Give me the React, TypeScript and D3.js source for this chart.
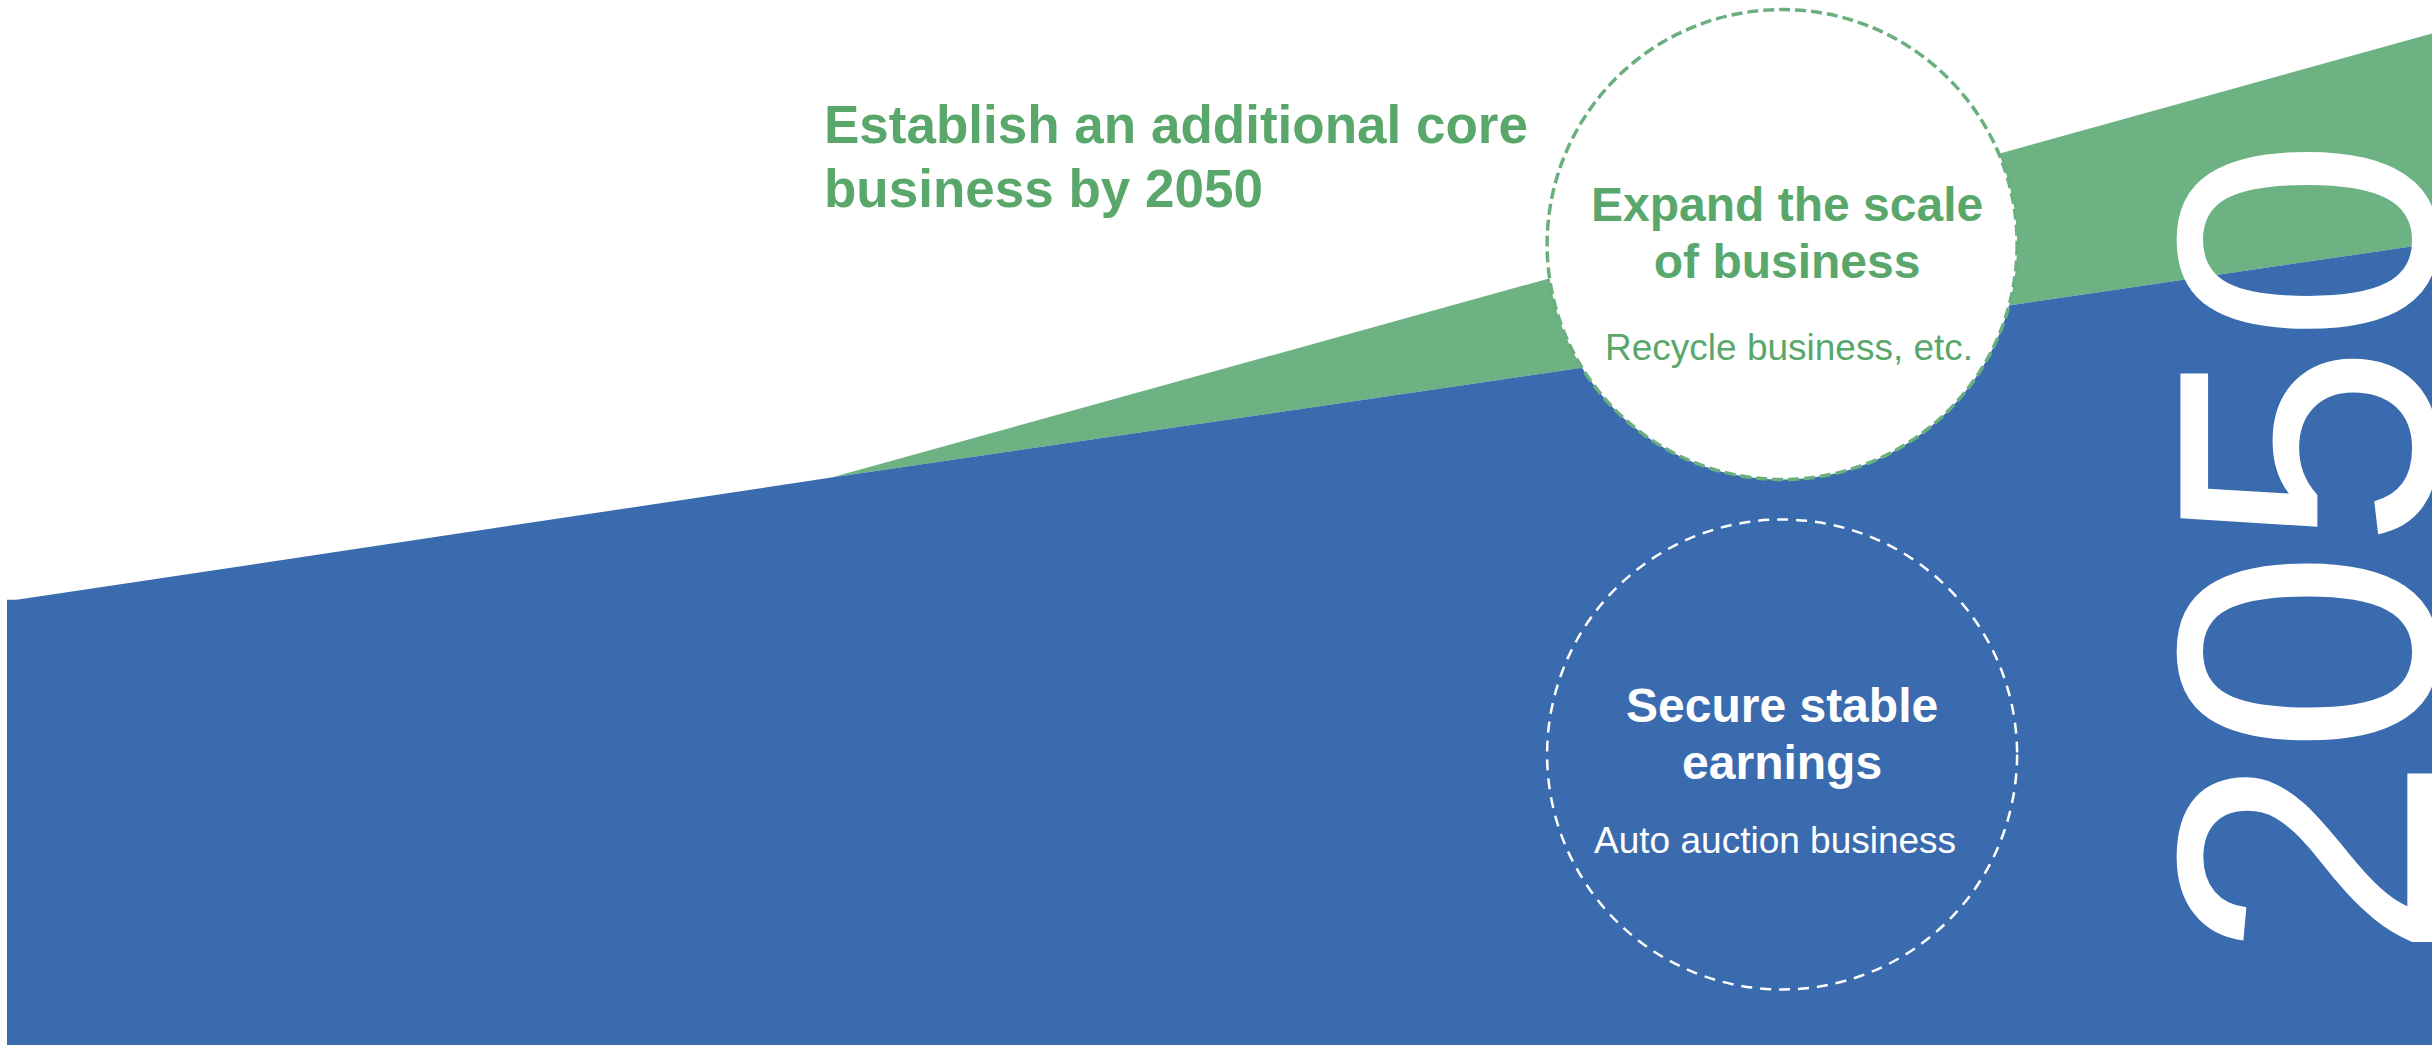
import React from "react";
import * as d3 from "d3";

// progress along the road map (% of the way to 2050)
const stages = [0, 0.4, 34, 100];
// existing core business (auto auctions) – share of chart height
const coreBusiness = [42.6, 42.6, 54.3, 76.7];
// additional core business (recycling etc.) stacked on top
const newBusiness = [0, 0, 0, 20.1];

const headline = ["Establish an additional core", "business by 2050"];
const expandLines = ["Expand the scale", "of business"];
const expandSub = "Recycle business, etc.";
const secureLines = ["Secure stable", "earnings"];
const secureSub = "Auto auction business";
const targetYear = "2050";

const W = 2433;
const H = 1045;
const BLUE = "#3a6bae";
const GREEN = "#6db282";
const GREEN_TEXT = "#5aa76c";
const FONT = "'Liberation Sans', Arial, Helvetica, sans-serif";

export default function App() {
  const x = d3.scaleLinear().domain([0, 100]).range([7, W - 1]);
  const y = d3.scaleLinear().domain([0, 100]).range([H, 0]);

  const rows = stages.map((s, i) => ({
    s,
    core: coreBusiness[i],
    extra: newBusiness[i],
  }));

  const coreArea = d3
    .area<(typeof rows)[number]>()
    .x((d) => x(d.s))
    .y0(y(0))
    .y1((d) => y(d.core));

  const extraArea = d3
    .area<(typeof rows)[number]>()
    .x((d) => x(d.s))
    .y0((d) => y(d.core))
    .y1((d) => y(d.core + d.extra));

  // circles sit near the end of the road map
  const cx = x(73.2);
  const r = 235;
  const upper = { cx, cy: y(76.6) };
  const lower = { cx, cy: y(27.8) };

  return (
    <svg
      width={W}
      height={H}
      style={{ position: "absolute", left: 0, top: 0, display: "block" }}
      fontFamily={FONT}
    >
      <rect width={W} height={H} fill="#fff" />
      <path d={extraArea(rows) || ""} fill={GREEN} />
      <path d={coreArea(rows) || ""} fill={BLUE} />

      {/* headline */}
      <text fill={GREEN_TEXT} fontSize={53} fontWeight="bold">
        {headline.map((t, i) => (
          <tspan key={t} x={824} y={143 + i * 64}>
            {t}
          </tspan>
        ))}
      </text>

      {/* upper circle */}
      <circle
        cx={upper.cx}
        cy={upper.cy}
        r={r}
        fill="#fff"
        stroke="#6aaf7e"
        strokeWidth={3.5}
        strokeDasharray="11 5"
      />
      <text fill={GREEN_TEXT} fontSize={48} fontWeight="bold" textAnchor="middle">
        {expandLines.map((t, i) => (
          <tspan key={t} x={upper.cx + 5} y={upper.cy - 24 + i * 57}>
            {t}
          </tspan>
        ))}
      </text>
      <text
        x={upper.cx + 7}
        y={upper.cy + 115}
        fill={GREEN_TEXT}
        fontSize={37}
        textAnchor="middle"
      >
        {expandSub}
      </text>

      {/* lower circle */}
      <circle
        cx={lower.cx}
        cy={lower.cy}
        r={r}
        fill="none"
        stroke="#fff"
        strokeWidth={2.5}
        strokeDasharray="11 8"
      />
      <text fill="#fff" fontSize={48} fontWeight="bold" textAnchor="middle">
        {secureLines.map((t, i) => (
          <tspan key={t} x={lower.cx} y={lower.cy - 32 + i * 57}>
            {t}
          </tspan>
        ))}
      </text>
      <text
        x={lower.cx - 7}
        y={lower.cy + 99}
        fill="#fff"
        fontSize={37}
        textAnchor="middle"
      >
        {secureSub}
      </text>

      {/* big vertical year */}
      <text
        transform={`translate(${W + 2},549) rotate(-90)`}
        fill="#fff"
        fontSize={370}
        textAnchor="middle"
      >
        {targetYear}
      </text>
    </svg>
  );
}
